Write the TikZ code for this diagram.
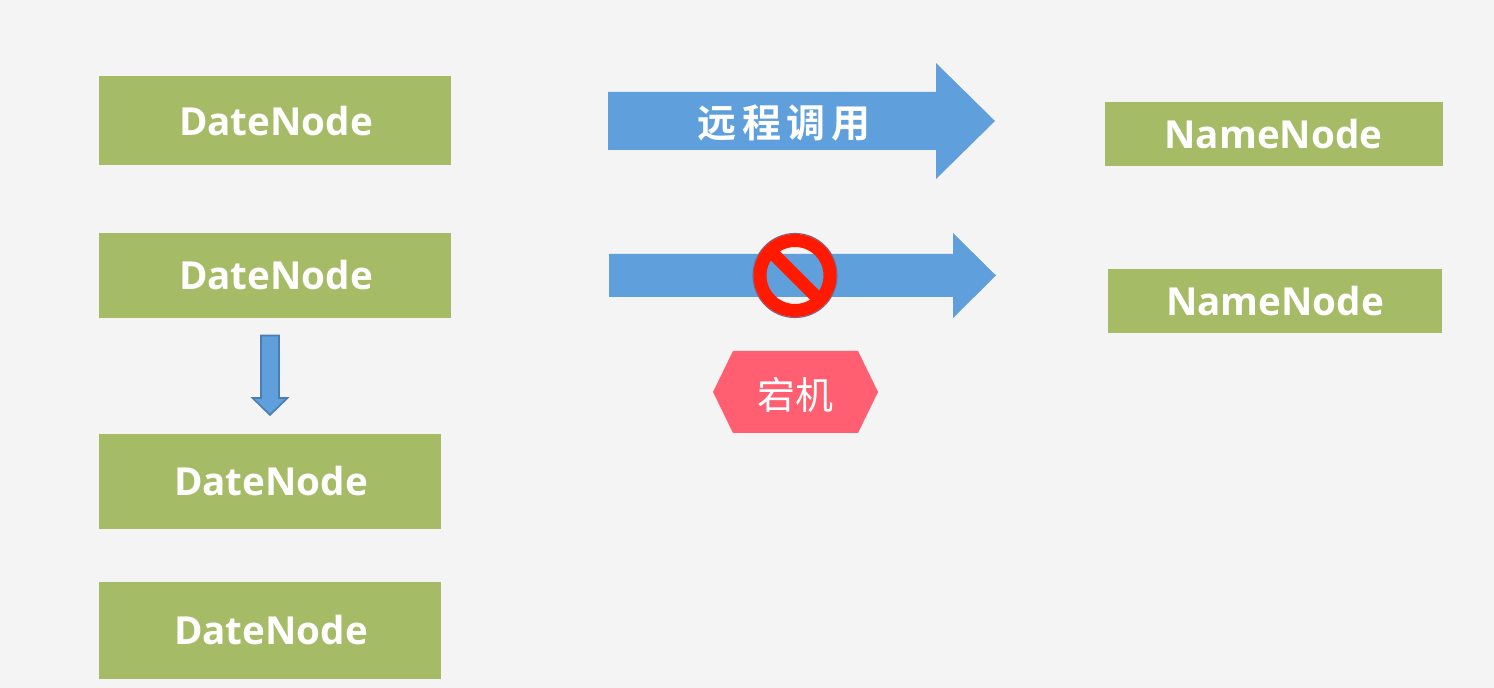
\documentclass[tikz,border=0pt]{standalone}
\usepackage{fontspec}
\usetikzlibrary{calc}
\setmainfont{Open Sans}
\newfontfamily\cjkbold[LetterSpace=14]{Noto Sans CJK SC Bold}
\newfontfamily\cjkplain{Noto Sans CJK SC}
\definecolor{pagebg}{HTML}{F4F4F4}
\definecolor{leaf}{HTML}{A6BB65}
\definecolor{sky}{HTML}{5FA0DC}
\definecolor{skyedge}{HTML}{4A7DB0}
\definecolor{stopred}{HTML}{FF1A00}
\definecolor{stopedge}{HTML}{7A6A90}
\definecolor{rose}{HTML}{FF5F70}
\tikzset{
  serverbox/.style={fill=leaf,draw=none,inner sep=0pt,text=white,
    font=\fontsize{19.3}{23}\selectfont\bfseries},
  blockarrow/.style={fill=sky,draw=none},
}
\begin{document}
\begin{tikzpicture}[x=0.5pt,y=-0.5pt]
\useasboundingbox (0,0) rectangle (1494,688);
\fill[pagebg] (0,0) rectangle (1494,688);

% Data nodes, left column
\node[serverbox,minimum width=176pt,minimum height=44.5pt] (dn1) at (275,121) {\hspace{1pt}DateNode};
\node[serverbox,minimum width=176pt,minimum height=42.5pt] (dn2) at (275,275.5) {\hspace{1pt}DateNode};
\node[serverbox,minimum width=171pt,minimum height=47.5pt] (dn3) at (270,481.5) {\hspace{1pt}DateNode};
\node[serverbox,minimum width=171pt,minimum height=48.5pt] (dn4) at (270,630.5) {\hspace{1pt}DateNode};

% Name nodes, right column
\node[serverbox,minimum width=169pt,minimum height=32pt] (nn1) at (1273.5,134) {NameNode};
\node[serverbox,minimum width=167pt,minimum height=32pt] (nn2) at (1275,301.5) {NameNode};

% Small arrow between the two data nodes
\draw[fill=sky,draw=skyedge,line width=0.8pt,line join=miter]
  (261,335.5) -- (279,335.5) -- (279,398) -- (287.5,398) -- (270,415)
  -- (252.5,398) -- (261,398) -- cycle;

% Remote call arrow
\fill[blockarrow] (608,92) -- (936,92) -- (936,63) -- (995,121) -- (936,179)
  -- (936,150) -- (608,150) -- cycle;
\node[text=white,inner sep=0pt,font=\fontsize{19.5}{23}\selectfont\cjkbold] (call) at (784,123.5) {远程调用};

% Blocked call arrow
\fill[blockarrow] (609,254) -- (953,254) -- (953,233) -- (996,275.5) -- (953,318)
  -- (953,297) -- (609,297) -- cycle;

% Prohibition sign on the blocked arrow
\coordinate (stop) at (795,275.5);
\draw[stopedge,line width=0.6pt] (stop) circle[radius=42];
\draw[stopred,line width=6.5pt] (stop) circle[radius=35];
\draw[stopred,line width=6.5pt] ($(stop)+(-23,-23)$) -- ($(stop)+(23,23)$);

% Host outage tag
\fill[rose] (713,392) -- (733,351) -- (858,351) -- (878,392) -- (858,433) -- (733,433) -- cycle;
\node[text=white,inner sep=0pt,font=\fontsize{19}{23}\selectfont\cjkplain] (host) at (795.5,395) {宕机};
\end{tikzpicture}
\end{document}
